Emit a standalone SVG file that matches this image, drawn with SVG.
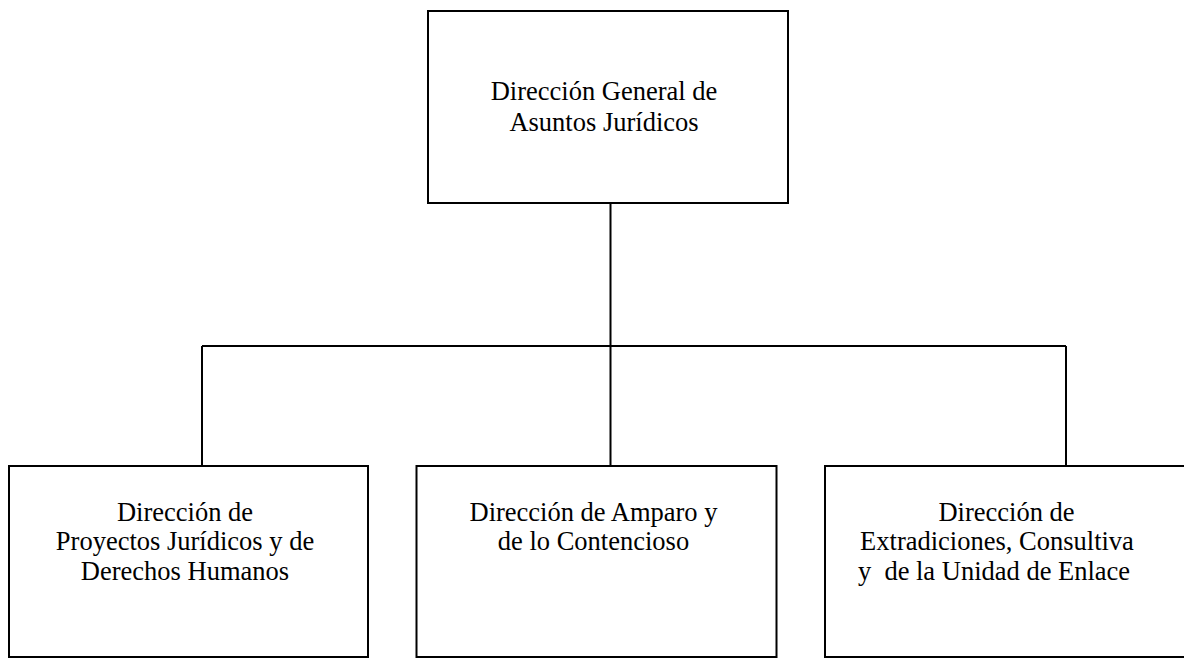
<svg xmlns="http://www.w3.org/2000/svg" width="1184" height="658" viewBox="0 0 1184 658">
<style>
.box{fill:#fff;stroke:#000;stroke-width:2}
.ln{fill:none;stroke:#000;stroke-width:2}
.t{font-family:'Liberation Serif','Times New Roman',Tinos,'DejaVu Serif',serif;font-size:26.5px;fill:#000;text-anchor:middle}
</style>
<rect width="1184" height="658" fill="#fff"/>
<g id="connectors">
<path class="ln" d="M610.5 203 V346 M202 346 H1066 M202 346 V466 M610.5 346 V466 M1066 346 V466"/>
</g>
<g id="n0">
<rect class="box" x="428" y="11" width="360" height="192"/>
<text class="t" x="604" y="100">Dirección General de</text>
<text class="t" x="604" y="130.5">Asuntos Jurídicos</text>
</g>
<g id="n1">
<rect class="box" x="9" y="466" width="359" height="191"/>
<text class="t" x="185" y="520.5">Dirección de</text>
<text class="t" x="185" y="550">Proyectos Jurídicos y de</text>
<text class="t" x="185" y="580">Derechos Humanos</text>
</g>
<g id="n2">
<rect class="box" x="416.5" y="466" width="360" height="191"/>
<text class="t" x="593.5" y="520.5">Dirección de Amparo y</text>
<text class="t" x="593.5" y="550">de lo Contencioso</text>
</g>
<g id="n3">
<rect class="box" x="825" y="466" width="370" height="191"/>
<text class="t" x="1006.5" y="520.5">Dirección de</text>
<text class="t" x="997" y="550">Extradiciones, Consultiva</text>
<text class="t" x="994" y="580" xml:space="preserve">y  de la Unidad de Enlace</text>
</g>
</svg>
